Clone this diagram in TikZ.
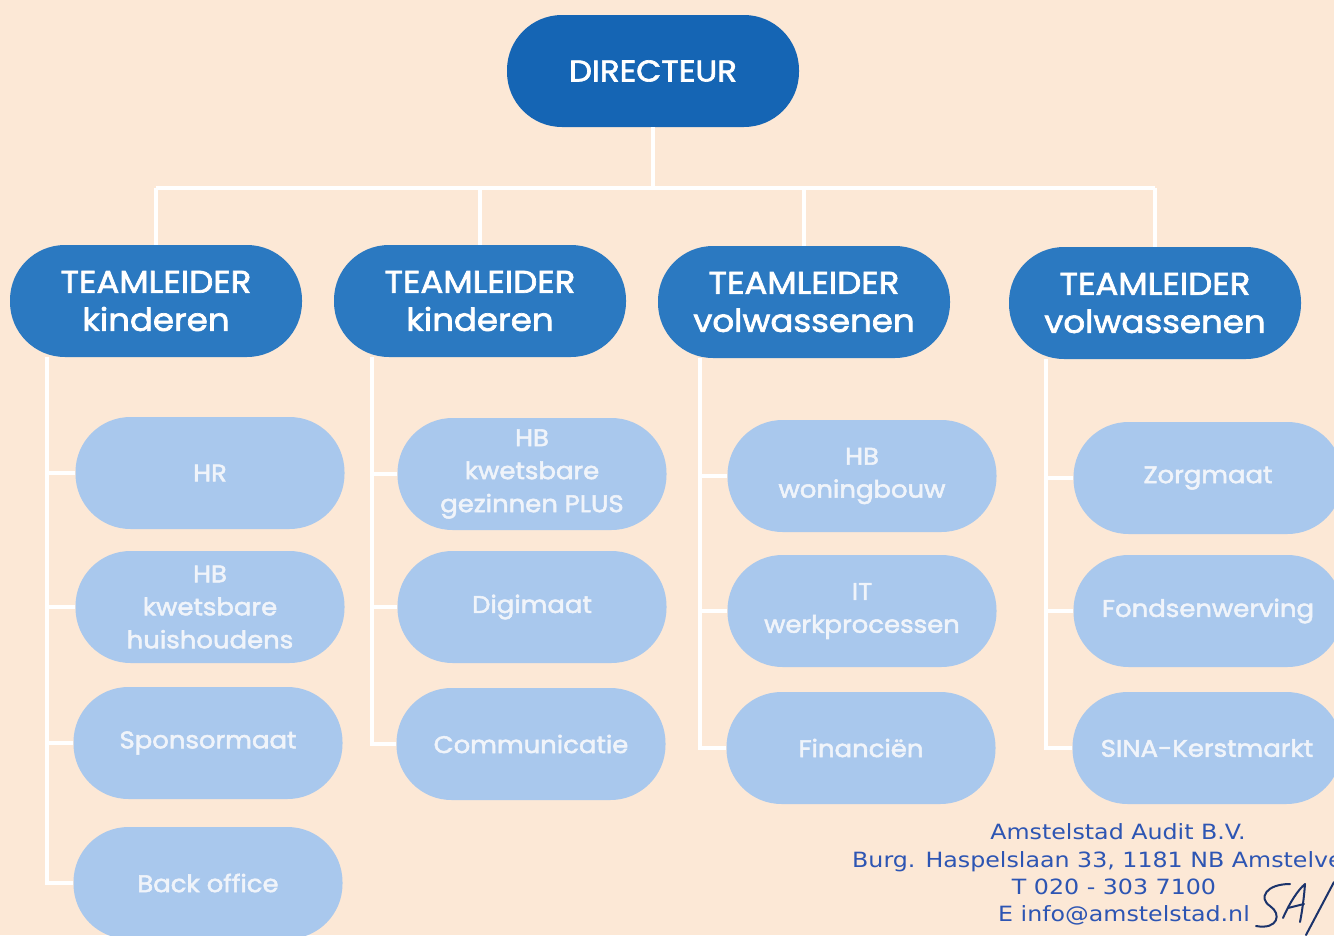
\documentclass[tikz,border=0pt]{standalone}
\usepackage{fontspec}
\setmainfont{Poppins}
\newfontfamily\medfont{Poppins}[FakeBold=2.2, FakeStretch=1.08]
\newfontfamily\stampfont{DejaVu Sans}[FakeStretch=1.13]
\definecolor{bg}{HTML}{FCE8D6}
\definecolor{darkb}{HTML}{1565B4}
\definecolor{midb}{HTML}{2B79C1}
\definecolor{lightb}{HTML}{A9C8ED}
\definecolor{lighttext}{HTML}{F0F4FA}
\definecolor{stamp}{HTML}{2D55B3}
\begin{document}
\begin{tikzpicture}[x=1pt,y=-1pt,
  pill/.style={rectangle, rounded corners=55pt, minimum width=292pt, minimum height=112pt, inner sep=0pt, align=center, draw=none},
  dirbox/.style={pill, fill=darkb, text=white, font=\medfont\fontsize{30}{34}\selectfont},
  leadbox/.style={pill, fill=midb, text=white, font=\medfont\fontsize{31.5}{38}\selectfont},
  unitbox/.style={pill, minimum width=269pt, fill=lightb, text=lighttext, font=\medfont\fontsize{24}{33}\selectfont},
  conn/.style={draw=white, line width=3.5pt},
  stamptext/.style={text=stamp, font=\stampfont\fontsize{21}{28}\selectfont, inner sep=0pt},
  sign/.style={draw=stamp!60!black, line width=2pt, line cap=round, line join=round}
]
\path[use as bounding box, fill=bg] (0,0) rectangle (1334,935);
\clip (0,0) rectangle (1334,935);

% director and team leaders
\node[dirbox] (dir) at (653,71) {DIRECTEUR};
\node[leadbox] (tl1) at (156,301) {TEAMLEIDER\\kinderen};
\node[leadbox] (tl2) at (480,301) {TEAMLEIDER\\kinderen};
\node[leadbox] (tl3) at (804,302) {TEAMLEIDER\\volwassenen};
\node[leadbox] (tl4) at (1155,303) {TEAMLEIDER\\volwassenen};

% units
\node[unitbox] (a1) at (210,473) {HR};
\node[unitbox] (a2) at (210,607) {HB\\kwetsbare\\huishoudens};
\node[unitbox] (a3) at (208,743) {Sponsormaat};
\node[unitbox] (a4) at (208,883) {Back office};

\node[unitbox] (b1) at (532,474) {HB\\kwetsbare\\gezinnen PLUS};
\node[unitbox] (b2) at (532,607) {Digimaat};
\node[unitbox] (b3) at (531,744) {Communicatie};

\node[unitbox] (c1) at (862,476) {HB\\woningbouw};
\node[unitbox] (c2) at (862,611) {IT\\werkprocessen};
\node[unitbox] (c3) at (861,748) {Financiën};

\node[unitbox] (d1) at (1208,478) {Zorgmaat};
\node[unitbox] (d2) at (1208,611) {Fondsenwerving};
\node[unitbox] (d3) at (1207,748) {SINA-Kerstmarkt};

% connectors director -> team leaders
\coordinate (bus) at (653,188);
\draw[conn] (dir.south) -- (bus);
\draw[conn] (tl1.north |- bus) -- (tl4.north |- bus);
\draw[conn] (tl1.north |- bus) -- (tl1.north);
\draw[conn] (tl2.north |- bus) -- (tl2.north);
\draw[conn] (tl3.north |- bus) -- (tl3.north);
\draw[conn] (tl4.north |- bus) -- (tl4.north);

% column trunks
\coordinate (v1) at (47,0);
\coordinate (v2) at (372,0);
\coordinate (v3) at (700,0);
\coordinate (v4) at (1046,0);
\draw[conn] (tl1.south -| v1) |- (a4.west);
\draw[conn] (v1 |- a1.west) -- (a1.west);
\draw[conn] (v1 |- a2.west) -- (a2.west);
\draw[conn] (v1 |- a3.west) -- (a3.west);

\draw[conn] (tl2.south -| v2) |- (b3.west);
\draw[conn] (v2 |- b1.west) -- (b1.west);
\draw[conn] (v2 |- b2.west) -- (b2.west);

\draw[conn] (tl3.south -| v3) |- (c3.west);
\draw[conn] (v3 |- c1.west) -- (c1.west);
\draw[conn] (v3 |- c2.west) -- (c2.west);

\draw[conn] (tl4.south -| v4) |- (d3.west);
\draw[conn] (v4 |- d1.west) -- (d1.west);
\draw[conn] (v4 |- d2.west) -- (d2.west);

% stamp
\node[stamptext, anchor=base] (s1) at (1118,839) {Amstelstad Audit B.V.};
\node[stamptext, anchor=base west] (s2) at (852,867) {Burg. Haspelslaan 33, 1181 NB Amstelveen};
\node[stamptext, anchor=base] (s3) at (1114,894) {T 020 - 303 7100};
\node[stamptext, anchor=base] (s4) at (1124,921) {E info@amstelstad.nl};

% signature
\draw[sign]
  (1290,884) .. controls (1266,884) and (1258,898) .. (1270,906)
  .. controls (1282,914) and (1278,930) .. (1256,926);
\draw[sign]
  (1283,918) .. controls (1290,902) and (1298,890) .. (1305,884)
  .. controls (1304,898) and (1302,912) .. (1300,922);
\draw[sign] (1288,908) -- (1304,904);
\draw[sign] (1306,935) -- (1334,882);
\end{tikzpicture}
\end{document}
